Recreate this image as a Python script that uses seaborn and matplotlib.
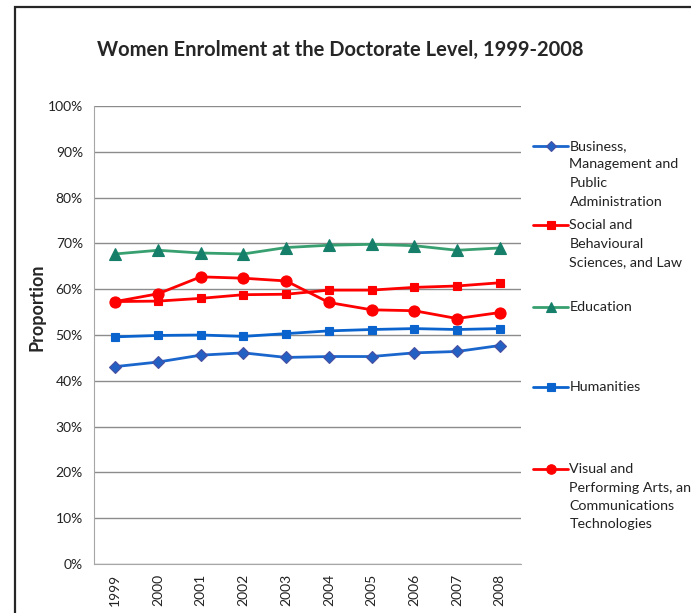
import numpy as np
import pandas as pd
import matplotlib
matplotlib.use("Agg")
import matplotlib.pyplot as plt
from matplotlib.patches import Rectangle
from matplotlib.ticker import PercentFormatter
import seaborn as sns

years = ["1999", "2000", "2001", "2002", "2003", "2004", "2005", "2006", "2007", "2008"]

business = [43.1, 44.1, 45.6, 46.1, 45.1, 45.3, 45.3, 46.1, 46.4, 47.7]
social = [57.3, 57.4, 58.0, 58.8, 58.9, 59.8, 59.8, 60.4, 60.7, 61.4]
education = [67.7, 68.5, 67.9, 67.7, 69.1, 69.6, 69.8, 69.5, 68.5, 69.0]
humanities = [49.6, 49.9, 50.0, 49.7, 50.3, 50.9, 51.2, 51.4, 51.2, 51.4]
visual = [57.3, 59.0, 62.7, 62.4, 61.8, 57.1, 55.5, 55.3, 53.6, 54.9]

labels = ["Business,\nManagement and\nPublic\nAdministration",
          "Social and\nBehavioural\nSciences, and Law",
          "Education",
          "Humanities",
          "Visual and\nPerforming Arts, an\nCommunications\nTechnologies"]

sns.set_style("white")
plt.rcParams['font.family'] = ['Lato', 'DejaVu Sans']

# series styles: line colour, marker, marker face, marker edge, marker size
styles = [("#1a66cc", "D", "#2360c4", "#4a4fa0", 6.5),
          ("#ff0000", "s", "#ff0000", "#ff0000", 6),
          ("#38a070", "^", "#167f6a", "#167f6a", 8),
          ("#0b63ce", "s", "#0b63ce", "#0b63ce", 6),
          ("#ff0000", "o", "#ff0000", "#ff0000", 8)]

series = [business, social, education, humanities, visual]

fig = plt.figure(figsize=(6.91, 6.13), dpi=100)
ax = fig.add_axes([94/691, 1-564/613, (521-94)/691, (564-106)/613])

for vals, lab, st in zip(series, labels, styles):
    df = pd.DataFrame({"Year": years, "Value": np.array(vals) / 100.0})
    sns.lineplot(x="Year", y="Value", data=df, ax=ax, color=st[0], marker=st[1],
                 markerfacecolor=st[2], markeredgecolor=st[3], markersize=st[4],
                 markeredgewidth=0.8, linewidth=2.0, label=lab)

ax.set_ylim(0, 1)
ax.set_xlim(-0.5, 9.5)
ax.set_yticks(np.arange(0, 1.01, 0.1))
ax.yaxis.set_major_formatter(PercentFormatter(1.0, decimals=0))
ax.grid(axis="y", color="#8c8c8c", linewidth=1.0)
ax.grid(axis="x", visible=False)
for s in ["top", "right"]:
    ax.spines[s].set_visible(False)
ax.spines["left"].set_color("#a6a6a6")
ax.spines["bottom"].set_color("#a6a6a6")
ax.tick_params(axis="y", length=0, pad=8, labelsize=10, labelcolor="#222222")
ax.tick_params(axis="x", length=0, pad=7, labelsize=10, labelrotation=90, labelcolor="#222222")
ax.set_xlabel("")
ax.set_ylabel("")
ax.set_axisbelow(True)

fig.text(340/691, 1-50/613, "Women Enrolment at the Doctorate Level, 1999-2008",
         ha="center", va="center", fontsize=14.5, fontweight="bold")
fig.text(37/691, 1-307/613, "Proportion", rotation=90, ha="center", va="center",
         fontsize=13, fontweight="bold")

# legend: one box per entry, handle aligned with the first line of text
handles, hl = ax.get_legend_handles_labels()
ax.get_legend().remove()
tops = [140, 219, 301, 381, 463]
for h, l, top in zip(handles, hl, tops):
    leg = fig.legend([h], [l], loc="upper left", bbox_to_anchor=(533/691, 1-top/613),
                     frameon=False, fontsize=10.3, handlelength=2.45, handletextpad=0.1,
                     borderpad=0, borderaxespad=0, handleheight=1.3, markerscale=0.85)
    for t in leg.get_texts():
        t.set_linespacing(1.65)
        t.set_color("#222222")
    for col in leg._legend_handle_box.get_children():
        for item in col.get_children():
            item.align = "top"

# chart area frame
fig.add_artist(Rectangle((15/691, -0.1), 1.0, 1-7/613+0.1, transform=fig.transFigure,
                         fill=False, edgecolor="#262626", linewidth=1.6))

fig.savefig("out.png", dpi=100)
